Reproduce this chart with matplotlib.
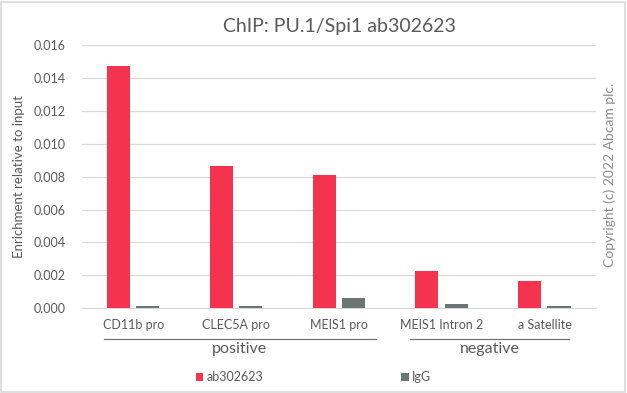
import matplotlib.pyplot as plt
import numpy as np
from matplotlib.patches import Rectangle

plt.rcParams['font.family'] = ['Lato', 'DejaVu Sans']

categories = ["CD11b pro", "CLEC5A pro", "MEIS1 pro", "MEIS1 Intron 2", "a Satellite"]
groups = ["positive", "negative"]
group_spans = [(-0.29, 2.36), (2.69, 4.24)]
ab302623 = [0.0147, 0.00865, 0.0081, 0.00227, 0.00168]
igg = [0.00014, 0.00012, 0.00063, 0.00026, 0.00014]

red = "#F5334F"
grey = "#6B7573"
txt = "#595959"

fig = plt.figure(figsize=(6.27, 3.93), dpi=100)
ax = fig.add_axes([0.1308, 0.2155, 0.8198, 0.67])

x = np.arange(len(categories))
w = 0.225
ax.bar(x - 0.145, ab302623, w, color=red, label="ab302623", zorder=3)
ax.bar(x + 0.14, igg, w, color=grey, label="IgG", zorder=3)

ax.set_xlim(-0.5, len(categories) - 0.5)
ax.set_ylim(0, 0.016)
ax.set_yticks(np.arange(0, 0.0161, 0.002))
ax.set_yticklabels([f"{v:.3f}" for v in np.arange(0, 0.0161, 0.002)])
ax.grid(axis="y", color="#D9D9D9", lw=0.9, zorder=0)
for s in ["top", "right", "left"]:
    ax.spines[s].set_visible(False)
ax.spines["bottom"].set_color("#D9D9D9")
ax.tick_params(axis="both", length=0, colors=txt, labelsize=9)
ax.tick_params(axis="y", pad=12)
ax.set_xticks(x)
ax.set_xticklabels(categories)
ax.tick_params(axis="x", pad=8)

ax.set_ylabel("Enrichment relative to input", color=txt, fontsize=9.5, labelpad=6)
ax.set_title("ChIP: PU.1/Spi1 ab302623", color=txt, fontsize=14, pad=9)

trans = ax.get_xaxis_transform()
for g, (a, b) in zip(groups, group_spans):
    ax.plot([a, b], [-0.115, -0.115], color=grey, lw=0.9, transform=trans, clip_on=False)
    ax.text((a + b) / 2, -0.155, g, transform=trans, ha="center", va="center",
            color=txt, fontsize=11.5)

fig.legend(loc="center", bbox_to_anchor=(0.5, 0.04), ncol=2, frameon=False,
           fontsize=9, labelcolor=txt, handlelength=0.6, handleheight=0.6,
           columnspacing=11, handletextpad=0.3)

fig.text(0.973, 0.555, "Copyright (c) 2022 Abcam plc.", rotation=90, ha="center",
         va="center", color="#8C8C8C", fontsize=10)

fig.patches.append(Rectangle((0.002, 0.003), 0.995, 0.993, transform=fig.transFigure,
                             fill=False, edgecolor="#D9D9D9", lw=1.2))

fig.savefig("out.png", dpi=100)
